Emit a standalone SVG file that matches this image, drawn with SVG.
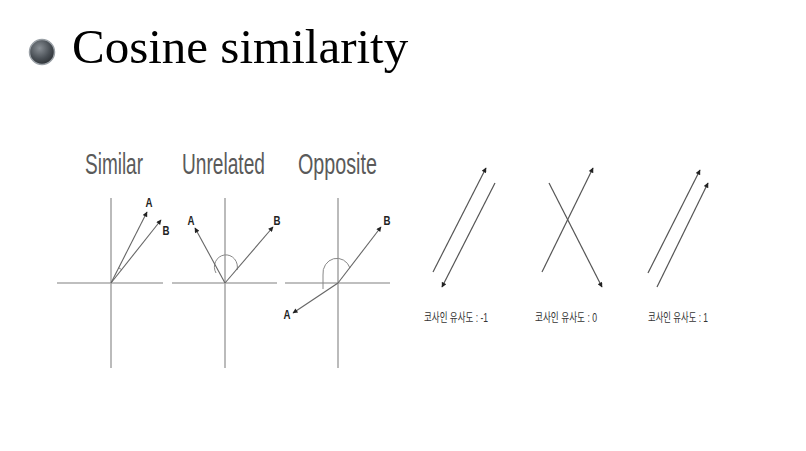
<svg xmlns="http://www.w3.org/2000/svg" width="806" height="451" viewBox="0 0 806 451">
<defs>
<radialGradient id="ball" cx="0.4" cy="0.35" r="0.7">
<stop offset="0" stop-color="#8a9096"/>
<stop offset="0.6" stop-color="#4a5056"/>
<stop offset="1" stop-color="#2a2e32"/>
</radialGradient>
<marker id="ah" viewBox="0 0 10 10" refX="9" refY="5" markerWidth="7" markerHeight="5" markerUnits="userSpaceOnUse" orient="auto">
<path d="M0,0 L10,5 L0,10 Z" fill="#222"/>
</marker>
</defs>
<style>
.axis{stroke:#aaa;stroke-width:1.6;fill:none}
.vec{stroke:#666;stroke-width:1.1;fill:none;marker-end:url(#ah)}
.arc{stroke:#888;stroke-width:1;fill:none}
.ln{stroke:#555;stroke-width:1.2;fill:none;marker-end:url(#ah)}
.cap{font-family:"Liberation Sans",Arial,sans-serif;font-size:30px;fill:#5a5a5a}
.lab{font-family:"Liberation Sans",Arial,sans-serif;font-size:13px;font-weight:bold;fill:#222;text-anchor:middle}
.kr{font-family:"Liberation Sans","Noto Sans CJK KR",sans-serif;font-size:12px;fill:#333}
</style>
<rect width="806" height="451" fill="#fff"/>
<g id="title">
<circle cx="42" cy="52" r="12.5" fill="url(#ball)" stroke="#9aa0a6" stroke-width="1.5"/>
<text x="72" y="63" font-family="'Liberation Serif','Times New Roman',serif" font-size="49" fill="#000">Cosine similarity</text>
</g>
<g id="similar">
<text class="cap" transform="translate(85,174) scale(0.633,1)">Similar</text>
<line class="axis" x1="111" y1="198" x2="111" y2="368"/>
<line class="axis" x1="57" y1="283" x2="163" y2="283"/>
<path class="arc" d="M118.7,267.8 A17,17 0 0 1 121.6,269.7"/>
<line class="vec" x1="111" y1="283" x2="147" y2="212"/>
<line class="vec" x1="111" y1="283" x2="161" y2="220"/>
<text class="lab" x="149" y="207" textLength="7" lengthAdjust="spacingAndGlyphs">A</text>
<text class="lab" x="166" y="235" textLength="7" lengthAdjust="spacingAndGlyphs">B</text>
</g>
<g id="unrelated">
<text class="cap" transform="translate(182,174) scale(0.638,1)">Unrelated</text>
<line class="axis" x1="225" y1="198" x2="225" y2="368"/>
<line class="axis" x1="172" y1="283" x2="277" y2="283"/>
<path class="arc" d="M216,273 A11.5,12 0 1 1 237,270"/>
<line class="vec" x1="225" y1="283" x2="195" y2="228"/>
<line class="vec" x1="225" y1="283" x2="273" y2="227"/>
<text class="lab" x="191" y="225" textLength="7" lengthAdjust="spacingAndGlyphs">A</text>
<text class="lab" x="277" y="225" textLength="7" lengthAdjust="spacingAndGlyphs">B</text>
</g>
<g id="opposite">
<text class="cap" transform="translate(298,174) scale(0.658,1)">Opposite</text>
<line class="axis" x1="338" y1="198" x2="338" y2="368"/>
<line class="axis" x1="285" y1="283" x2="390" y2="283"/>
<path class="arc" d="M350,268 A14,15 0 0 0 323,275 L323,289"/>
<line class="vec" x1="338" y1="283" x2="381" y2="227"/>
<line class="vec" x1="338" y1="283" x2="293" y2="313"/>
<text class="lab" x="387" y="225" textLength="7" lengthAdjust="spacingAndGlyphs">B</text>
<text class="lab" x="287" y="319" textLength="7" lengthAdjust="spacingAndGlyphs">A</text>
</g>
<g id="connectors">
<line class="ln" x1="433" y1="272" x2="486" y2="168"/>
<line class="ln" x1="495" y1="183" x2="442" y2="287"/>
<line class="ln" x1="542" y1="272" x2="593" y2="168"/>
<line class="ln" x1="549" y1="183" x2="602" y2="287"/>
<line class="ln" x1="648" y1="273" x2="700" y2="170"/>
<line class="ln" x1="657" y1="287" x2="708" y2="183"/>
</g>
<g id="labels">
<text class="kr" x="424" y="322" textLength="64" lengthAdjust="spacingAndGlyphs">코사인 유사도 : -1</text>
<text class="kr" x="535" y="322" textLength="62" lengthAdjust="spacingAndGlyphs">코사인 유사도 : 0</text>
<text class="kr" x="648" y="322" textLength="60" lengthAdjust="spacingAndGlyphs">코사인 유사도 : 1</text>
</g>
</svg>
